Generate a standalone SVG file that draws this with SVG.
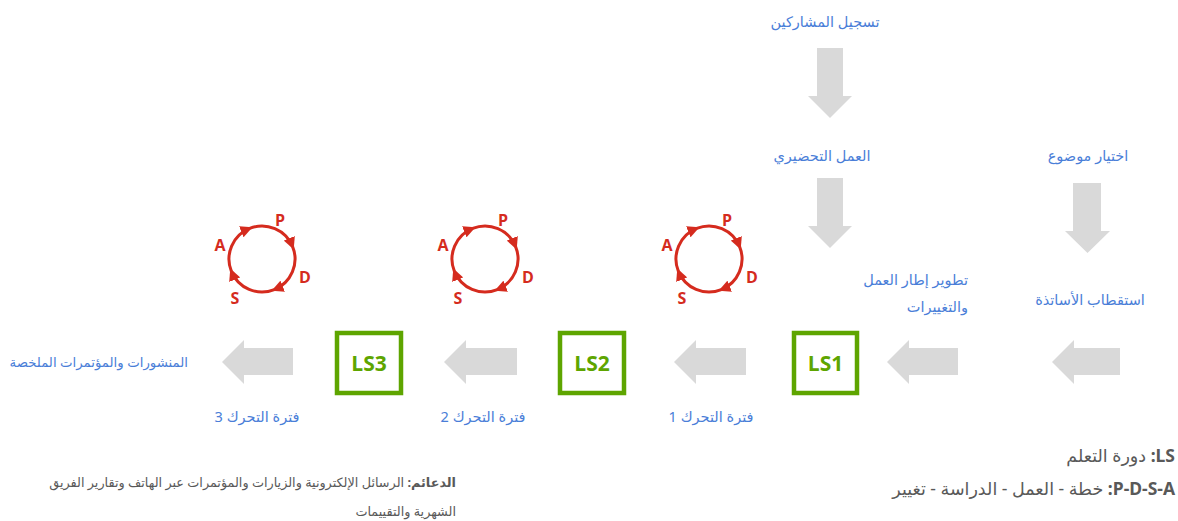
<svg xmlns="http://www.w3.org/2000/svg" xmlns:xlink="http://www.w3.org/1999/xlink" width="1178" height="521" viewBox="0 0 1178 521">
  <style>
    .lbl { font-family: "Noto Sans", "DejaVu Sans", sans-serif; font-size: 14.5px; fill: #4a7ed8; }
    .ls { font-family: "Open Sans", "Noto Sans", sans-serif; font-weight: bold; font-size: 21px; fill: #5ea500; }
    .box { fill: #ffffff; stroke: #5ea500; stroke-width: 4.5; }
    .arw { fill: #d9d9d9; }
    .cyc { fill: none; stroke: #d52b1e; stroke-width: 3; marker-end: url(#head); }
    .pl { font-family: "Open Sans", "Noto Sans", sans-serif; font-weight: bold; font-size: 16px; fill: #d52b1e; text-anchor: middle; }
    .leg { font-family: "Noto Sans", "DejaVu Sans", sans-serif; font-size: 17.5px; fill: #595959; }
    .sup { font-family: "Noto Sans", "DejaVu Sans", sans-serif; font-size: 12.8px; fill: #595959; }
    .b { font-weight: bold; }
  </style>
  <defs>
    <marker id="head" viewBox="0 0 12 12" refX="9" refY="6" markerUnits="userSpaceOnUse" markerWidth="12" markerHeight="12" orient="auto">
      <path d="M0,0 L12,6 L0,12 z" fill="#d52b1e"/>
    </marker>
    <!-- Plan-Do-Study-Act cycle, drawn around its own centre -->
    <g id="pdsa">
      <path class="cyc" d="M-30.6,12.36 A33,33 0 0 1 -12.36,-30.6"/>
      <path class="cyc" d="M-12.36,-30.6 A33,33 0 0 1 30.6,-12.36"/>
      <path class="cyc" d="M30.6,-12.36 A33,33 0 0 1 12.36,30.6"/>
      <path class="cyc" d="M12.36,30.6 A33,33 0 0 1 -30.6,12.36"/>
      <text class="pl" x="18" y="-33">P</text>
      <text class="pl" x="43" y="24">D</text>
      <text class="pl" x="-27" y="45">S</text>
      <text class="pl" x="-42" y="-8">A</text>
    </g>
  </defs>

  <!-- connectors: block arrows -->
  <g id="connectors">
    <polygon class="arw" points="817,48 843,48 843,96 852,96 830,118 808,96 817,96"/>
    <polygon class="arw" points="817,178 843,178 843,226 852,226 830,248 808,226 817,226"/>
    <polygon class="arw" points="1073,183 1101,183 1101,231 1110,231 1087.5,253 1065,231 1073,231"/>
    <polygon class="arw" points="1052,362 1074,340 1074,348 1120,348 1120,375 1074,375 1074,384"/>
    <polygon class="arw" points="887,362 909,340 909,348 958,348 958,375 909,375 909,384"/>
    <polygon class="arw" points="674,362 696,340 696,348 746,348 746,375 696,375 696,384"/>
    <polygon class="arw" points="444,362 466,340 466,348 517,348 517,375 466,375 466,384"/>
    <polygon class="arw" points="222,362 244,340 244,348 293,348 293,375 244,375 244,384"/>
  </g>

  <!-- preparation steps -->
  <g id="register">
    <text class="lbl" x="825" y="27" text-anchor="middle" direction="rtl">تسجيل المشاركين</text>
  </g>
  <g id="prep">
    <text class="lbl" x="822" y="161" text-anchor="middle" direction="rtl">العمل التحضيري</text>
  </g>
  <g id="topic">
    <text class="lbl" x="1088" y="161" text-anchor="middle" direction="rtl">اختيار موضوع</text>
  </g>
  <g id="framework">
    <text class="lbl" x="968" y="285" text-anchor="start" direction="rtl">تطوير إطار العمل</text>
    <text class="lbl" x="968" y="312" text-anchor="start" direction="rtl">والتغييرات</text>
  </g>
  <g id="recruit">
    <text class="lbl" x="1090" y="305" text-anchor="middle" direction="rtl">استقطاب الأساتذة</text>
  </g>

  <!-- learning sessions -->
  <g id="ls1">
    <rect class="box" x="794" y="333" width="63" height="60"/>
    <text class="ls" x="825.5" y="370.5" text-anchor="middle">LS1</text>
  </g>
  <g id="ls2">
    <rect class="box" x="560" y="333" width="64" height="60"/>
    <text class="ls" x="592" y="370.5" text-anchor="middle">LS2</text>
  </g>
  <g id="ls3">
    <rect class="box" x="337" y="333" width="64" height="60"/>
    <text class="ls" x="369" y="370.5" text-anchor="middle">LS3</text>
  </g>

  <!-- action periods -->
  <g id="action1">
    <text class="lbl" x="711" y="422" text-anchor="middle" direction="rtl">فترة التحرك 1</text>
  </g>
  <g id="action2">
    <text class="lbl" x="483" y="422" text-anchor="middle" direction="rtl">فترة التحرك 2</text>
  </g>
  <g id="action3">
    <text class="lbl" x="257" y="422" text-anchor="middle" direction="rtl">فترة التحرك 3</text>
  </g>

  <!-- PDSA cycles -->
  <g id="pdsa1"><use xlink:href="#pdsa" x="709" y="259"/></g>
  <g id="pdsa2"><use xlink:href="#pdsa" x="485" y="259"/></g>
  <g id="pdsa3"><use xlink:href="#pdsa" x="262" y="259"/></g>

  <!-- outcome -->
  <g id="outcome">
    <text class="lbl" x="188" y="367" text-anchor="start" direction="rtl" style="font-size:13.3px">المنشورات والمؤتمرات الملخصة</text>
  </g>

  <!-- legend -->
  <g id="legend">
    <text class="leg" x="1175" y="462" text-anchor="start" direction="rtl"><tspan class="b">LS:</tspan> دورة التعلم</text>
    <text class="leg" x="1175" y="495" text-anchor="start" direction="rtl"><tspan class="b">P-D-S-A:</tspan> خطة - العمل - الدراسة - تغيير</text>
  </g>

  <!-- supports -->
  <g id="supports">
    <text class="sup" x="456" y="487" text-anchor="start" direction="rtl"><tspan class="b">الدعائم:</tspan> الرسائل الإلكترونية والزيارات والمؤتمرات عبر الهاتف وتقارير الفريق</text>
    <text class="sup" x="456" y="516" text-anchor="start" direction="rtl">الشهرية والتقييمات</text>
  </g>
</svg>
